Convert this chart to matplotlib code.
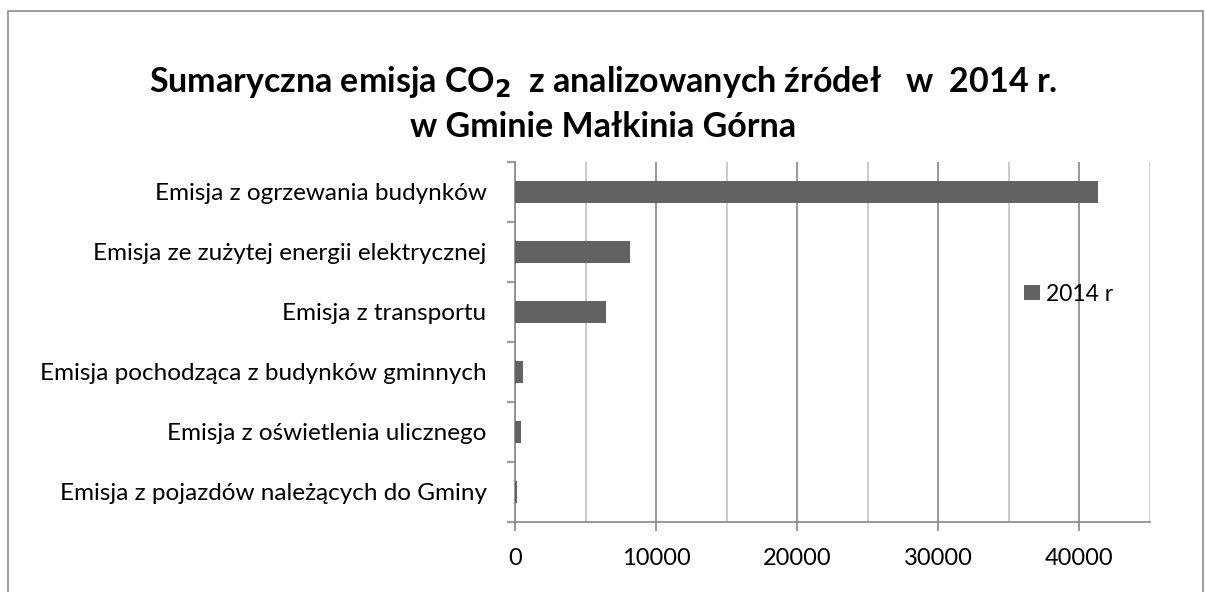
import matplotlib
matplotlib.use('Agg')
import matplotlib.pyplot as plt
from matplotlib.patches import Rectangle
from matplotlib.ticker import MultipleLocator

plt.rcParams['font.family'] = ['Lato', 'DejaVu Sans']

categories = [
    'Emisja z ogrzewania budynków',
    'Emisja ze zużytej energii elektrycznej',
    'Emisja z transportu',
    'Emisja pochodząca z budynków gminnych',
    'Emisja z oświetlenia ulicznego',
    'Emisja z pojazdów należących do Gminy',
]
values_2014 = [41300, 8150, 6450, 580, 450, 130]
series_label = '2014 r'

bar_color = '#626262'

W, H = 1206, 592
fig = plt.figure(figsize=(W / 100, H / 100), dpi=100)
ax = fig.add_axes([515 / W, 1 - 522 / H, (1150 - 515) / W, (522 - 162) / H])

# outer chart frame
fig.patches.append(Rectangle((8 / W, -0.01), 1195 / W, 1 - 11 / H + 0.01,
                             transform=fig.transFigure, fill=False,
                             edgecolor='#8c8c8c', linewidth=1.2))

pos = list(range(len(categories)))
ax.barh(pos, values_2014, height=0.38, color=bar_color, label=series_label, zorder=3)
ax.set_ylim(len(categories) - 0.5, -0.5)
ax.set_xlim(0, 45000)

ax.set_yticks(pos)
ax.set_yticklabels(categories, fontsize=17.5)
ax.set_yticks([p - 0.5 for p in pos] + [len(pos) - 0.5], minor=True)
ax.tick_params(axis='y', which='major', length=0, pad=20.5)
ax.tick_params(axis='y', which='minor', length=6, color='#878787', width=1.2)

ax.xaxis.set_major_locator(MultipleLocator(10000))
ax.xaxis.set_minor_locator(MultipleLocator(5000))
ax.tick_params(axis='x', which='major', length=6.5, color='#878787', width=1.2,
               labelsize=17, pad=12)
ax.tick_params(axis='x', which='minor', length=0)
ax.grid(axis='x', which='major', color='#878787', linewidth=1.2, zorder=0)
ax.grid(axis='x', which='minor', color='#c4c4c4', linewidth=1.2, zorder=0)

for side in ['top', 'right']:
    ax.spines[side].set_visible(False)
for side in ['left', 'bottom']:
    ax.spines[side].set_color('#878787')
    ax.spines[side].set_linewidth(1.2)

ax.legend(loc='center left', bbox_to_anchor=(0.8016, 0.633), frameon=False,
          fontsize=16.5, handlelength=0.7, handleheight=0.65, handletextpad=0.26,
          borderpad=0, borderaxespad=0)

fig.text(0.5, 1 - 82 / H, 'Sumaryczna emisja CO$_\\mathbf{2}$  z analizowanych źródeł   w  2014 r.',
         ha='center', va='center', fontsize=24.5, fontweight='bold')
fig.text(0.5, 1 - 127 / H, 'w Gminie Małkinia Górna',
         ha='center', va='center', fontsize=24.5, fontweight='bold')

fig.savefig('out.png', dpi=100)
